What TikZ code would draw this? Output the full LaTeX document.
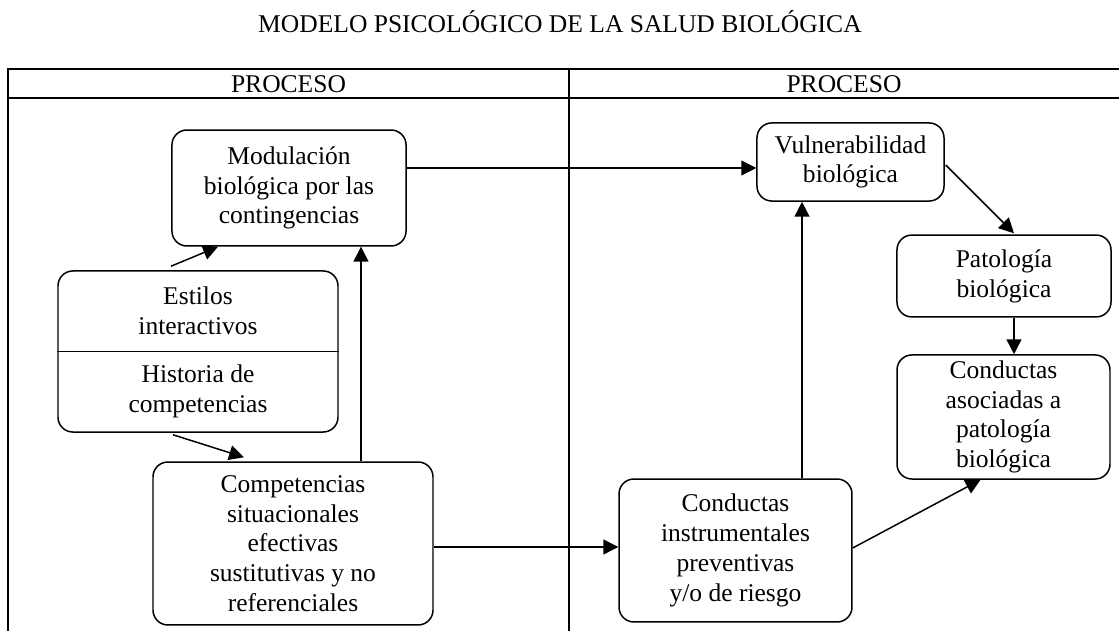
\documentclass[tikz,border=0pt]{standalone}
\usepackage{fontspec}
\setmainfont{Liberation Serif}
\usepackage{tikz}
\usetikzlibrary{arrows.meta, calc}

\begin{document}
\begin{tikzpicture}[x=0.47pt, y=-0.47pt,
    every node/.style={font=\fontsize{12pt}{14pt}\selectfont, align=center, inner sep=0pt},
    procbox/.style={draw, rounded corners=7pt, line width=0.7pt},
    link/.style={-{Triangle[length=7pt, width=7pt]}, line width=0.7pt}]
    \useasboundingbox (0,0) rectangle (1119,631);

    % Title
    \node[anchor=base] (titulo) at (560,33) {MODELO PSICOLÓGICO DE LA SALUD BIOLÓGICA};

    % Table frame
    \draw[line width=0.9pt] (8,631) -- (8,69) -- (1119,69);
    \draw[line width=0.9pt] (8,98) -- (1119,98);
    \draw[line width=0.9pt] (569,69) -- (569,631);
    \node (proc1) at (288.5,84) {PROCESO};
    \node (proc2) at (844,84) {PROCESO};

    % Left column
    \node[procbox, minimum width=110pt, minimum height=54.5pt] (modul) at (289,188)
      {Modulación\\biológica por las\\contingencias};
    \node[procbox, minimum width=131.6pt, minimum height=75.7pt] (estilos) at (198,351.5) {};
    \draw[line width=0.7pt] (estilos.west) -- (estilos.east);
    \node (estsup) at (198,311) {Estilos\\interactivos};
    \node (esthist) at (198,391) {Historia de\\competencias};
    \node[procbox, minimum width=131.6pt, minimum height=76.6pt] (compet) at (293,543.5)
      {Competencias\\situacionales\\efectivas\\sustitutivas y no\\referenciales};

    % Right column
    \node[procbox, minimum width=87.9pt, minimum height=36.7pt] (vuln) at (850.5,162)
      {Vulnerabilidad\\biológica};
    \node[procbox, minimum width=100.6pt, minimum height=38.5pt] (pato) at (1004,276)
      {Patología\\biológica};
    \node[procbox, minimum width=100.1pt, minimum height=58.3pt] (condas) at (1003.5,417)
      {Conductas\\asociadas a\\patología\\biológica};
    \node[procbox, minimum width=109.5pt, minimum height=67.2pt] (condins) at (735.5,550.5)
      {Conductas\\instrumentales\\preventivas\\y/o de riesgo};

    % Links
    \draw[link] ($(estilos.north)+(-27,-4)$) -- ($(modul.south)+(-71,0)$);
    \draw[link] ($(estilos.south)+(-25,2)$) -- ($(compet.north)+(-49,-4)$);
    \coordinate (c1) at ($(compet.north)+(68,0)$);
    \draw[link] (c1) -- (c1 |- modul.south);
    \draw[link] ($(modul.east)+(0,-20)$) -- ($(vuln.west)+(0,6)$);
    \draw[link] ($(vuln.east)+(1,3)$) -- ($(pato.north)+(10,-1)$);
    \draw[link] ($(pato.south)+(10,0)$) -- ($(condas.north)+(10.5,0)$);
    \draw[link] ($(compet.east)+(0,3.5)$) -- ($(condins.west)+(0,-3.5)$);
    \coordinate (c2) at ($(condins.north)+(66.5,0)$);
    \draw[link] (c2) -- (c2 |- vuln.south);
    \draw[link] ($(condins.east)+(0,-2.5)$) -- ($(condas.south)+(-23,0)$);
\end{tikzpicture}
\end{document}
